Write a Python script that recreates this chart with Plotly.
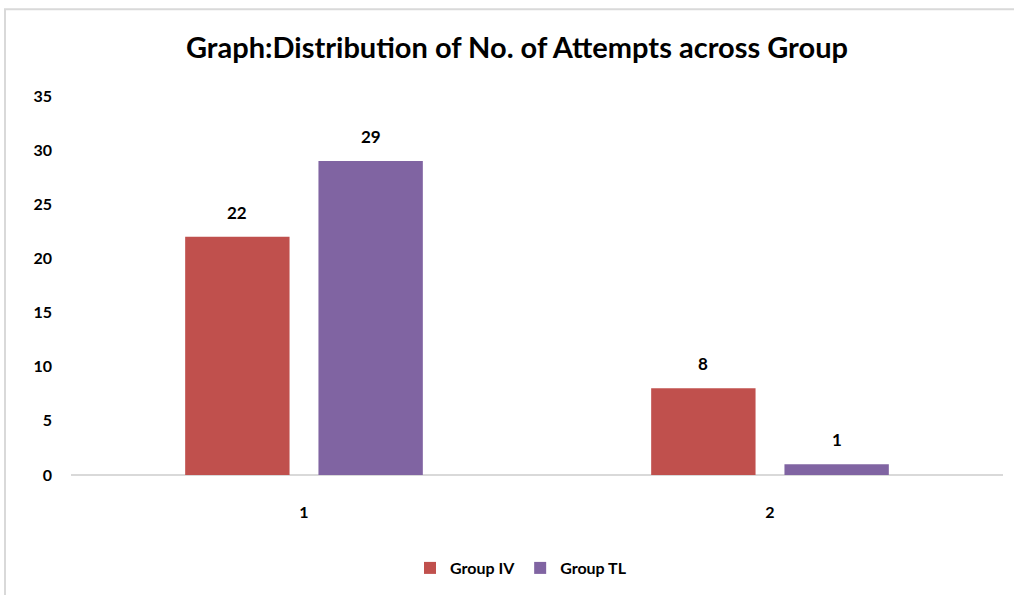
import plotly.graph_objects as go

# Data
categories = [1, 2]
group_iv = [22, 8]
group_tl = [29, 1]
series_names = ["Group IV", "Group TL"]
y_ticks = [0, 5, 10, 15, 20, 25, 30, 35]

colors = ["#C0504D", "#8064A2"]
FONT = "Lato"

W, H = 1014, 595
M_L, M_R, M_T, M_B = 71, 11, 96, 119
PW, PH = W - M_L - M_R, H - M_T - M_B

# bar geometry in x-data units (one category spans 1 unit)
BAR_W = 0.224
GAP = 0.062
offsets = [-GAP / 2 - BAR_W, GAP / 2]

fig = go.Figure()
for name, vals, col, off in zip(series_names, [group_iv, group_tl], colors, offsets):
    fig.add_trace(go.Bar(
        x=categories, y=vals, name=name,
        width=BAR_W, offset=off,
        marker=dict(color=col, line=dict(width=0)),
    ))
    for c, v in zip(categories, vals):
        fig.add_annotation(
            x=c + off + BAR_W / 2, y=v, xref="x", yref="y",
            text=str(v), showarrow=False,
            yanchor="bottom", yshift=12,
            font=dict(family=FONT, size=17, color="#000000", weight="bold"),
        )

# outer chart frame
fig.add_shape(
    type="rect", xref="paper", yref="paper",
    x0=(5 - M_L) / PW, x1=(W + 20 - M_L) / PW,
    y0=-(M_B + 20) / PH, y1=(H - 9 - M_B) / PH,
    line=dict(color="#D9D9D9", width=2), fillcolor="rgba(0,0,0,0)",
    layer="below",
)

fig.update_layout(
    width=W, height=H,
    margin=dict(l=M_L, r=M_R, t=M_T, b=M_B),
    paper_bgcolor="white", plot_bgcolor="white",
    title=dict(
        text="Graph:Distribution of No. of Attempts across Group",
        x=(517 - M_L) / PW, xref="paper", xanchor="center",
        y=(H - 48) / H, yanchor="middle",
        font=dict(family=FONT, size=29, color="#000000", weight="bold"),
    ),
    barmode="group",
    showlegend=True,
    legend=dict(
        orientation="h", x=(521 - M_L) / PW, xanchor="center",
        y=-(568 - (H - M_B)) / PH, yanchor="middle",
        font=dict(family=FONT, size=16, color="#000000", weight="bold"),
        traceorder="normal",
    ),
    font=dict(family=FONT, color="#000000"),
)

fig.update_xaxes(
    range=[0.5, 2.5], tickvals=categories,
    ticktext=[str(c) for c in categories],
    showline=False, showgrid=False, zeroline=False, ticks="",
    ticklabelstandoff=26,
    tickfont=dict(family=FONT, size=16, color="#000000", weight="bold"),
)
fig.update_yaxes(
    range=[0, 35], tickvals=y_ticks,
    ticktext=[str(t) for t in y_ticks],
    showgrid=False, zeroline=True, zerolinecolor="#D9D9D9", zerolinewidth=1.5,
    showline=False, ticks="", ticklabelstandoff=18,
    tickfont=dict(family=FONT, size=16, color="#000000", weight="bold"),
)

fig.write_html("out.html")
